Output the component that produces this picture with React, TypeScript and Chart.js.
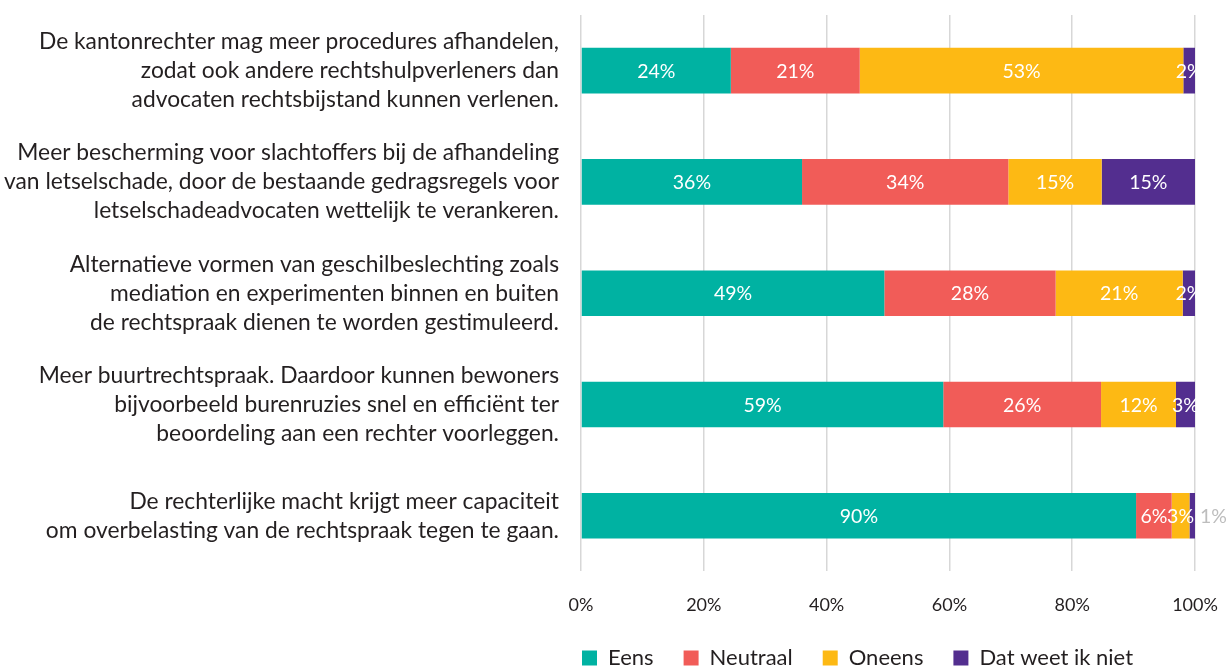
import React, { useEffect, useRef } from "react";
import { Chart, registerables } from "chart.js";

Chart.register(...registerables);

const categories: string[][] = [
  ["De kantonrechter mag meer procedures afhandelen,", "zodat ook andere rechtshulpverleners dan", "advocaten rechtsbijstand kunnen verlenen."],
  ["Meer bescherming voor slachtoffers bij de afhandeling", "van letselschade, door de bestaande gedragsregels voor", "letselschadeadvocaten wettelijk te verankeren."],
  ["Alternatieve vormen van geschilbeslechting zoals", "mediation en experimenten binnen en buiten", "de rechtspraak dienen te worden gestimuleerd."],
  ["Meer buurtrechtspraak. Daardoor kunnen bewoners", "bijvoorbeeld burenruzies snel en efficiënt ter", "beoordeling aan een rechter voorleggen."],
  ["De rechterlijke macht krijgt meer capaciteit", "om overbelasting van de rechtspraak tegen te gaan."],
];

const eens = [24.4, 36.0, 49.4, 59.0, 90.4];
const neutraal = [21.0, 33.6, 27.9, 25.7, 5.8];
const oneens = [52.7, 15.2, 20.7, 12.2, 2.9];
const weetNiet = [1.9, 15.2, 2.0, 3.1, 0.9];

const seriesNames = ["Eens", "Neutraal", "Oneens", "Dat weet ik niet"];
const seriesColors = ["#00B2A2", "#F15C58", "#FDB914", "#532E8F"];
const xTicks = [0, 20, 40, 60, 80, 100];

const FONT = "Lato, 'Noto Sans', sans-serif";
const TEXT = "#231F20";

const labelPlugin = {
  id: "segLabels",
  afterDatasetsDraw(chart: any) {
    const ctx = chart.ctx;
    ctx.save();
    ctx.font = `19.5px ${FONT}`;
    ctx.textBaseline = "middle";
    chart.data.datasets.forEach((ds: any, di: number) => {
      const meta = chart.getDatasetMeta(di);
      meta.data.forEach((bar: any, i: number) => {
        const v = ds.data[i] as number;
        const txt = `${Math.round(v)}%`;
        if (v < 1.5) {
          ctx.fillStyle = "#BDBDBD";
          ctx.textAlign = "left";
          ctx.fillText(txt, bar.x + 5, bar.y + 1);
        } else {
          ctx.fillStyle = "#FFFFFF";
          ctx.textAlign = "center";
          ctx.fillText(txt, (bar.x + bar.base) / 2, bar.y + 1);
        }
      });
    });
    ctx.restore();
  },
};

const legendPos = {
  id: "legendPos",
  afterLayout(chart: any) {
    const lg = chart.legend;
    if (!lg) return;
    const w = lg.right - lg.left;
    const h = lg.bottom - lg.top;
    lg.left = 582 - 30;
    lg.right = lg.left + w;
    lg.top = 660 - 30 - 13;
    lg.bottom = lg.top + h;
  },
};

export default function App() {
  const ref = useRef<HTMLCanvasElement | null>(null);
  useEffect(() => {
    document.body.style.margin = "0";
    if (!ref.current) return;
    const data = [eens, neutraal, oneens, weetNiet];
    const chart = new Chart(ref.current, {
      type: "bar",
      data: {
        labels: categories as any,
        datasets: data.map((d, i) => ({
          label: seriesNames[i],
          data: d,
          backgroundColor: seriesColors[i],
          borderWidth: 0,
          barPercentage: 0.82,
          categoryPercentage: 0.5,
        })),
      },
      options: {
        indexAxis: "y",
        animation: false,
        responsive: false,
        maintainAspectRatio: false,
        layout: { padding: { top: 15, right: 33, bottom: -31, left: 0 } },
        scales: {
          x: {
            stacked: true,
            min: 0,
            max: 100,
            afterBuildTicks: (scale: any) => {
              scale.ticks = xTicks.map((v) => ({ value: v }));
            },
            afterFit: (scale: any) => {
              scale.paddingLeft = 0;
              scale.paddingRight = 0;
            },
            ticks: {
              callback: (v: any) => `${v}%`,
              color: TEXT,
              font: { family: FONT, size: 18 },
              padding: 23,
            },
            grid: { color: "#D7D7D7", drawTicks: false, lineWidth: 1.5 },
            border: { display: false },
          },
          y: {
            stacked: true,
            afterFit: (scale: any) => {
              scale.width = 581;
              scale.paddingTop = 0;
              scale.paddingBottom = 0;
            },
            ticks: {
              color: TEXT,
              font: { family: FONT, size: 22.8, lineHeight: 1.27 },
              padding: 14,
            },
            grid: { display: false },
            border: { display: false },
          },
        },
        plugins: {
          legend: {
            position: "bottom",
            align: "start",
            fullSize: false,
            labels: {
              boxWidth: 15,
              boxHeight: 15,
              padding: 30,
              color: TEXT,
              font: { family: FONT, size: 22 },
            },
          },
          tooltip: { enabled: false },
        },
      },
      plugins: [labelPlugin, legendPos],
    });
    return () => chart.destroy();
  }, []);
  return (
    <div style={{ width: 1228, height: 670, background: "#fff" }}>
      <canvas ref={ref} width={1228} height={670} style={{ display: "block" }} />
    </div>
  );
}
